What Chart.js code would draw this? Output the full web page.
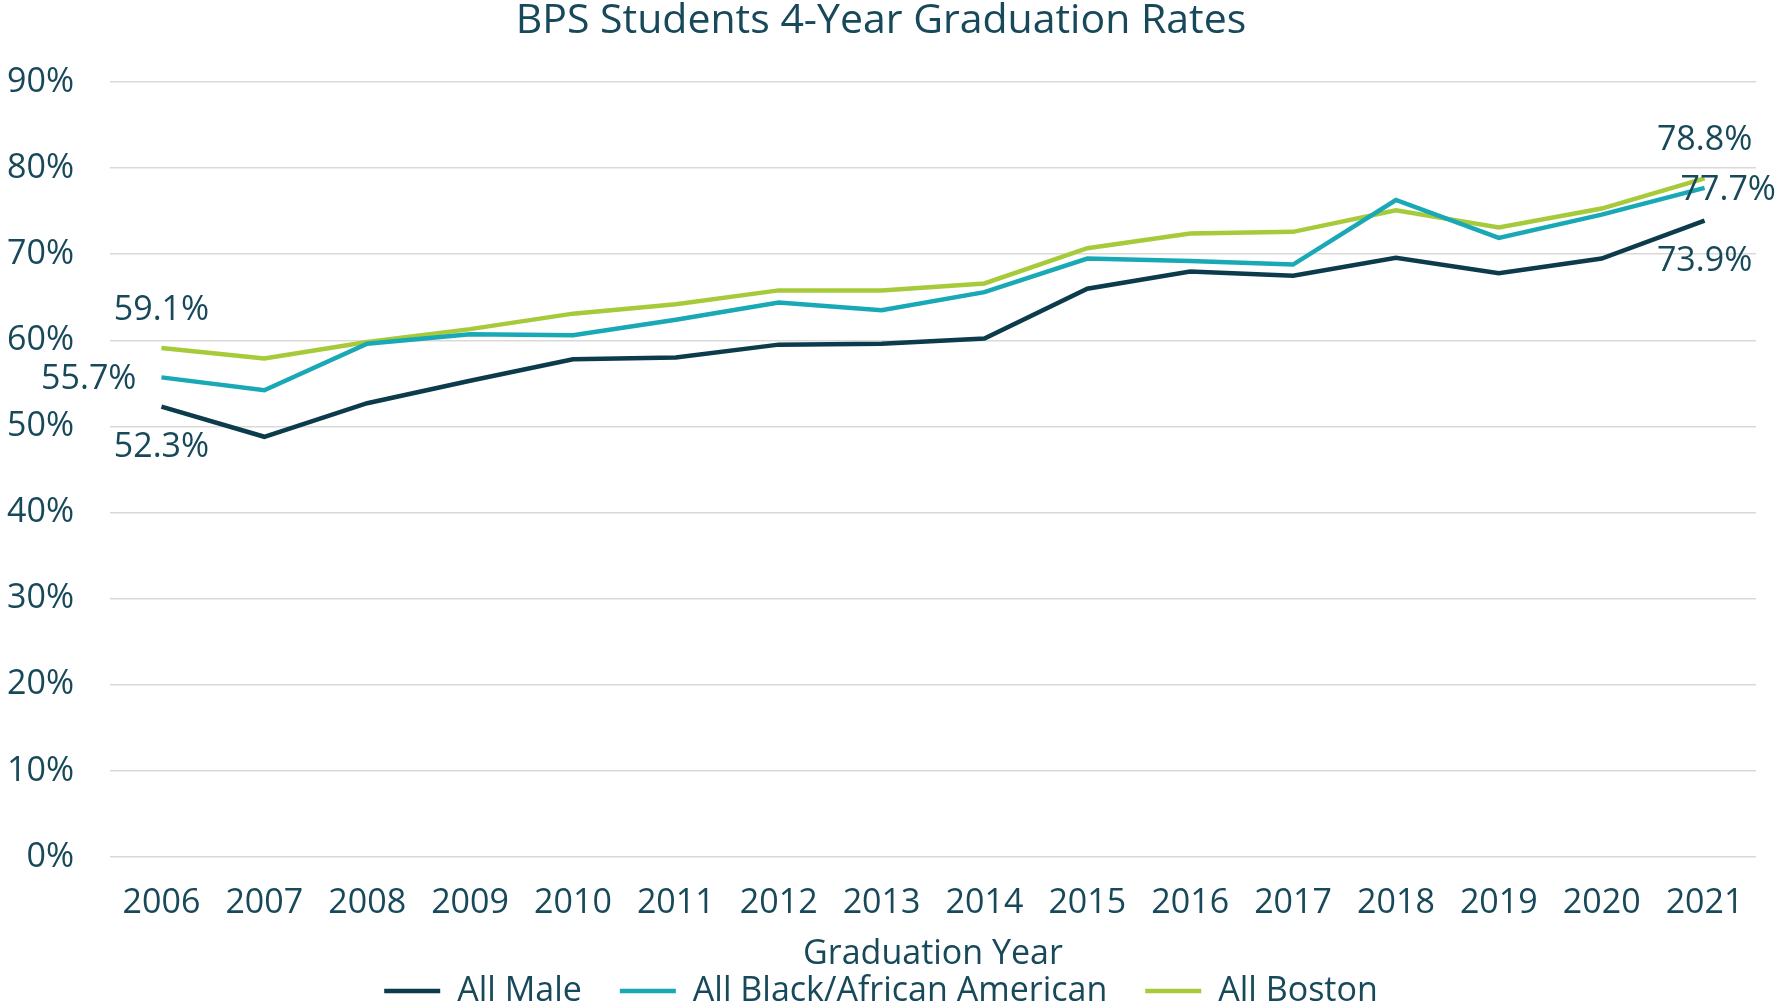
<!DOCTYPE html>
<html>
<head>
<meta charset="utf-8">
<title>BPS Students 4-Year Graduation Rates</title>
<script src="https://cdn.jsdelivr.net/npm/chart.js@4.4.0/dist/chart.umd.min.js"></script>
<style>
  html, body { margin: 0; padding: 0; background: #ffffff; }
  #wrap { width: 1780px; height: 1001px; }
</style>
</head>
<body>
<div id="wrap"><canvas id="chart1"></canvas></div>
<script>
// datos
var years = ['2006', '2007', '2008', '2009', '2010', '2011', '2012', '2013',
             '2014', '2015', '2016', '2017', '2018', '2019', '2020', '2021'];
var allMale = [52.3, 48.8, 52.7, 55.3, 57.8, 58.0, 59.5, 59.6, 60.2, 66.0, 68.0, 67.5, 69.6, 67.8, 69.5, 73.9];
var allBlack = [55.7, 54.2, 59.6, 60.7, 60.6, 62.4, 64.4, 63.5, 65.6, 69.5, 69.2, 68.8, 76.3, 71.9, 74.6, 77.7];
var allBoston = [59.1, 57.9, 59.8, 61.3, 63.1, 64.2, 65.8, 65.8, 66.6, 70.7, 72.4, 72.6, 75.1, 73.1, 75.3, 78.8];
var yMin = 0, yMax = 90, yStep = 10;

var textColor = '#17495a';
var fontFam = '"Open Sans", "Noto Sans", sans-serif';

// etiquetas del primer y ultimo punto de cada serie
var endLabels = {
  id: 'endLabels',
  afterDatasetsDraw: function (chart) {
    var ctx = chart.ctx;
    ctx.save();
    ctx.font = '34px ' + fontFam;
    ctx.fillStyle = textColor;
    ctx.textBaseline = 'middle';
    chart.data.datasets.forEach(function (ds, i) {
      var meta = chart.getDatasetMeta(i);
      [0, ds.data.length - 1].forEach(function (j, k) {
        var pt = meta.data[j];
        var spot = ds.labelSpots[k];
        var txt = ds.data[j].toFixed(1) + '%';
        var x = pt.x, y = pt.y;
        if (spot === 'above') { ctx.textAlign = 'center'; y -= 38; }
        else if (spot === 'below') { ctx.textAlign = 'center'; y += 41; }
        else if (spot === 'left') { ctx.textAlign = 'right'; x -= 25; y += 2; }
        else { ctx.textAlign = 'left'; x -= 24; y += 2; }
        ctx.fillText(txt, x, y);
      });
    });
    ctx.restore();
  }
};

var ctx1 = document.getElementById('chart1').getContext('2d');
var chart1 = new Chart(ctx1, {
  type: 'line',
  data: {
    labels: years,
    datasets: [{
      label: 'All Male',
      data: allMale,
      borderColor: '#0c3b4c',
      backgroundColor: '#0c3b4c',
      borderWidth: 4.5,
      pointRadius: 0,
      tension: 0,
      order: 3,
      labelSpots: ['below', 'below']
    }, {
      label: 'All Black/African American',
      data: allBlack,
      borderColor: '#19a8b6',
      backgroundColor: '#19a8b6',
      borderWidth: 4.5,
      pointRadius: 0,
      tension: 0,
      order: 1,
      labelSpots: ['left', 'inside']
    }, {
      label: 'All Boston',
      data: allBoston,
      borderColor: '#a6ca3a',
      backgroundColor: '#a6ca3a',
      borderWidth: 4.5,
      pointRadius: 0,
      tension: 0,
      order: 2,
      labelSpots: ['above', 'above']
    }]
  },
  options: {
    responsive: true,
    maintainAspectRatio: false,
    animation: false,
    layout: { padding: { left: 6, right: 24, top: 0, bottom: 0 } },
    plugins: {
      title: {
        display: true,
        text: 'BPS Students 4-Year Graduation Rates',
        color: textColor,
        font: { family: fontFam, size: 41, weight: 'normal', lineHeight: 1 },
        padding: { top: 1, bottom: 40 }
      },
      legend: {
        position: 'bottom',
        maxHeight: 65,
        labels: {
          usePointStyle: true,
          pointStyle: 'line',
          pointStyleWidth: 56,
          padding: 38,
          color: textColor,
          font: { family: fontFam, size: 34 },
          sort: function (a, b) { return a.datasetIndex - b.datasetIndex; }
        }
      },
      tooltip: { enabled: false }
    },
    scales: {
      x: {
        offset: true,
        grid: { display: false, drawTicks: false },
        border: { display: false },
        ticks: {
          color: textColor,
          font: { family: fontFam, size: 34, lineHeight: 1.2 },
          padding: 26,
          maxRotation: 0,
          autoSkip: false
        },
        title: {
          display: true,
          text: 'Graduation Year',
          color: textColor,
          font: { family: fontFam, size: 34, lineHeight: 1.2 },
          padding: { top: 10, bottom: -39 }
        },
        afterFit: function (scale) { scale.height = 79; }
      },
      y: {
        min: yMin,
        max: yMax,
        ticks: {
          stepSize: yStep,
          color: textColor,
          font: { family: fontFam, size: 34 },
          padding: 36,
          callback: function (v) { return v + '%'; }
        },
        grid: { color: '#d9d9d9', lineWidth: 1.5, drawTicks: false },
        border: { display: false },
        afterFit: function (scale) { scale.width = 104; }
      }
    }
  },
  plugins: [endLabels]
});
</script>
</body>
</html>
